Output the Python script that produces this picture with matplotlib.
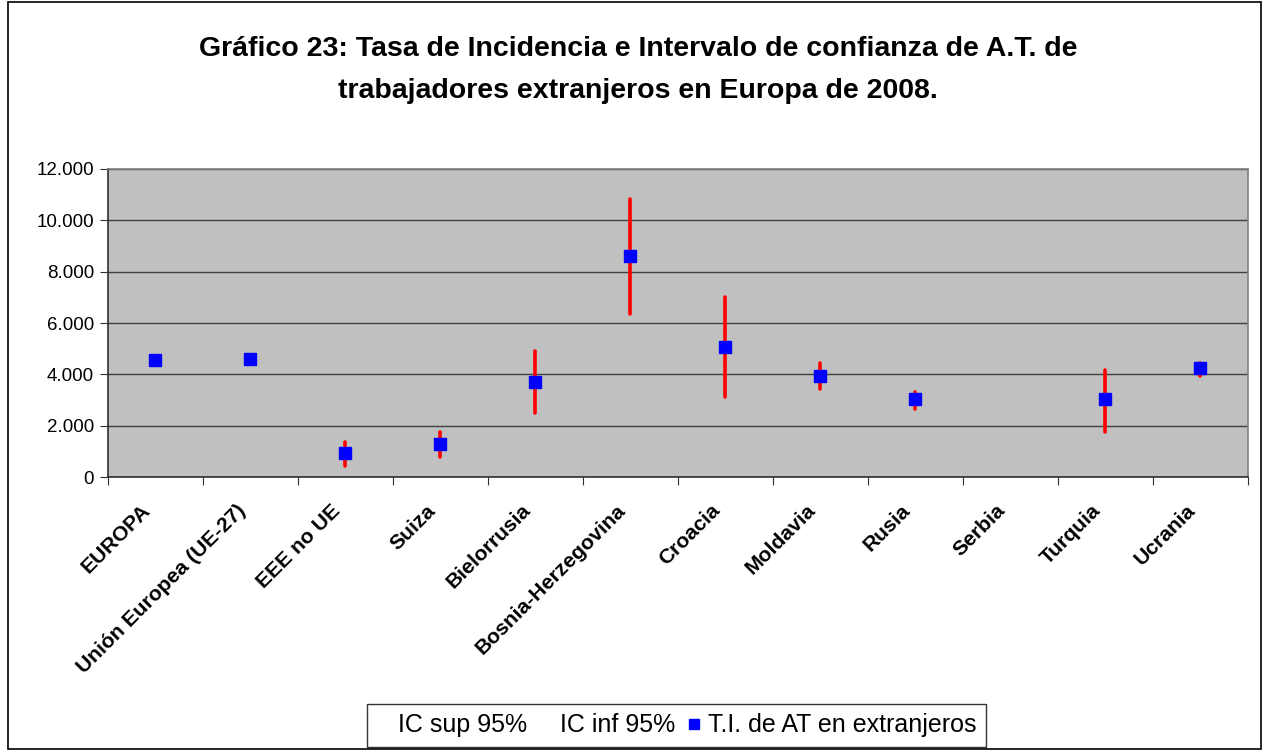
import matplotlib
matplotlib.use("Agg")
import matplotlib.pyplot as plt
from matplotlib.lines import Line2D
from matplotlib.patches import Rectangle
from matplotlib.ticker import FuncFormatter
import matplotlib.transforms as mtransforms
import numpy as np

categories = ["EUROPA", "Unión Europea (UE-27)", "EEE no UE", "Suiza", "Bielorrusia",
              "Bosnia-Herzegovina", "Croacia", "Moldavia", "Rusia", "Serbia", "Turquia", "Ucrania"]
ti_values = [4540, 4600, 920, 1300, 3710, 8600, 5060, 3940, 3030, np.nan, 3030, 4240]
ic_sup = [np.nan, np.nan, 1370, 1760, 4900, 10830, 7010, 4460, 3330, np.nan, 4150, 4460]
ic_inf = [np.nan, np.nan, 420, 780, 2500, 6350, 3110, 3410, 2650, np.nan, 1740, 3930]
yticks = [0, 2000, 4000, 6000, 8000, 10000, 12000]

plt.rcParams['font.family'] = ['Liberation Sans', 'DejaVu Sans']

fig = plt.figure(figsize=(12.64, 7.51), dpi=100)
fig.patches.append(Rectangle((0.006, 0.002), 0.992, 0.995, transform=fig.transFigure,
                             fill=False, edgecolor='black', linewidth=1.2))

ax = fig.add_axes([0.0854, 0.3648, 0.9019, 0.4102])
ax.set_facecolor('#C0C0C0')

x = np.arange(len(categories)) + 0.5
for xi, lo, hi in zip(x, ic_inf, ic_sup):
    if not (np.isnan(lo) or np.isnan(hi)):
        ax.plot([xi, xi], [lo, hi], color='#FF0000', linewidth=2.6, solid_capstyle='round', zorder=3)
ax.plot(x, ti_values, linestyle='none', marker='s', markersize=8, color='#0000FF',
        markeredgecolor='#0000FF', zorder=4)

ax.set_xlim(0, len(categories))
ax.set_ylim(0, 12000)
ax.set_yticks(yticks)
ax.yaxis.set_major_formatter(FuncFormatter(lambda v, p: f"{int(v):,}".replace(",", ".")))
ax.grid(axis='y', color='#404040', linewidth=1.0)
ax.set_axisbelow(True)

ax.set_xticks(np.arange(0, len(categories) + 1))
ax.set_xticklabels([])
ax.set_xticks(x, minor=True)
ax.set_xticklabels(categories, minor=True, rotation=45, ha='right', va='center',
                   rotation_mode='anchor', fontsize=15.2, fontweight='bold')
ax.tick_params(axis='x', which='minor', length=0, pad=22)
ax.tick_params(axis='x', which='major', length=6, direction='out', color='#303030')
ax.tick_params(axis='y', length=6, direction='out', color='#303030', labelsize=13.5, pad=4)
offset = mtransforms.ScaledTranslation(-8 / 100, 0, fig.dpi_scale_trans)
for lab in ax.get_xticklabels(minor=True):
    lab.set_transform(lab.get_transform() + offset)

for s in ['left', 'bottom']:
    ax.spines[s].set_color('#303030')
    ax.spines[s].set_linewidth(1.2)
for s in ['top', 'right']:
    ax.spines[s].set_color('#808080')
    ax.spines[s].set_linewidth(1.2)

fig.text(0.505, 0.935, "Gráfico 23: Tasa de Incidencia e Intervalo de confianza de A.T. de",
         ha='center', va='center', fontsize=20.5, fontweight='bold')
fig.text(0.505, 0.879, "trabajadores extranjeros en Europa de 2008.",
         ha='center', va='center', fontsize=20.5, fontweight='bold')

handles = [Line2D([], [], linestyle='none', marker=None),
           Line2D([], [], linestyle='none', marker=None),
           Line2D([], [], linestyle='none', marker='s', markersize=7.2, color='#0000FF')]
labels = ["IC sup 95%", "IC inf 95%", "T.I. de AT en extranjeros"]
leg = fig.legend(handles, labels, loc='center', bbox_to_anchor=(0.5352, 0.034), ncol=3,
                 fontsize=18, frameon=True, fancybox=False, edgecolor='black',
                 handlelength=0.6, handletextpad=0.25, columnspacing=0.47, borderpad=0.38)
leg.get_frame().set_linewidth(1.0)

fig.savefig("out.png", dpi=100)
